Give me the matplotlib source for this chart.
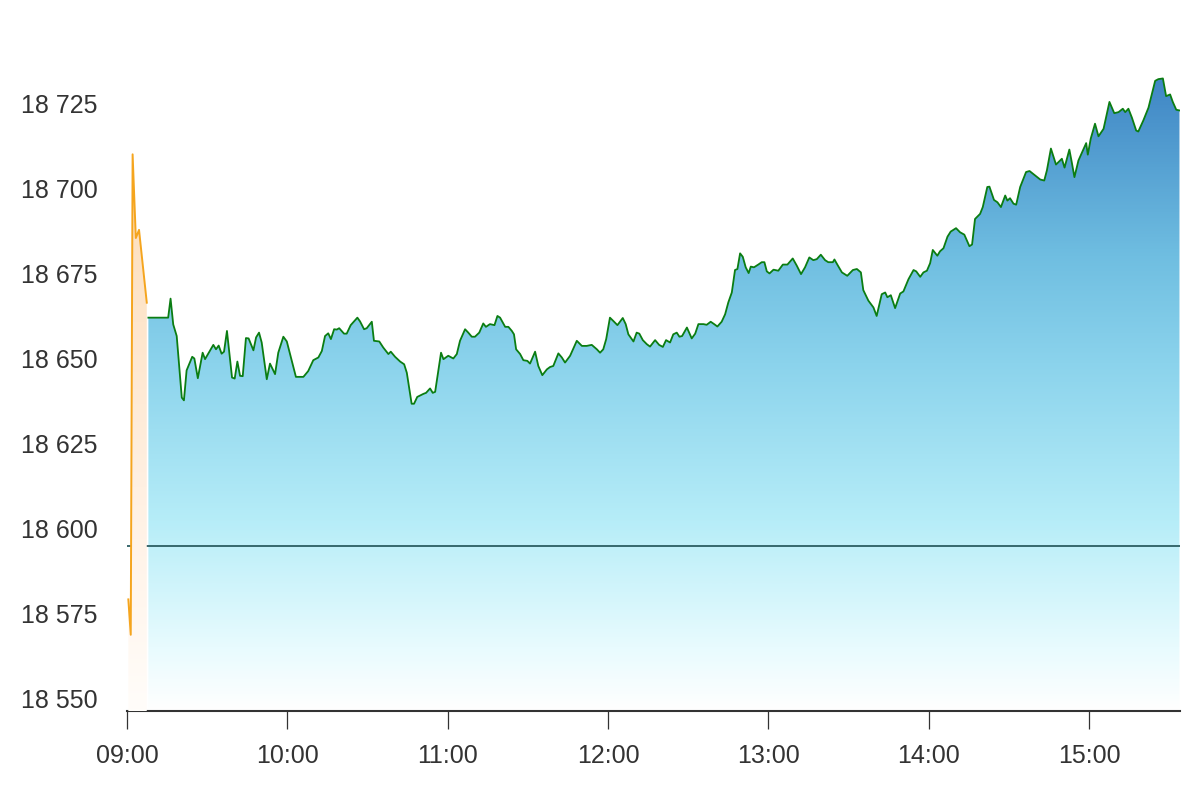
import numpy as np
import matplotlib
matplotlib.use("Agg")
import matplotlib.pyplot as plt
from matplotlib.colors import LinearSegmentedColormap
from matplotlib.patches import Polygon
from matplotlib.ticker import FuncFormatter

# ---------------- data (minutes after 09:00, index level) ----------------
pre_minutes = [0.5, 1.4, 2.1, 3.3, 4.5, 7.4]
pre_values = [18579.2, 18568.8, 18710.0, 18685.4, 18687.8, 18666.4]

minutes = [
    8.0, 15.4, 16.3, 17.3, 18.6, 20.5, 21.3, 22.3, 24.4, 25.2, 26.5, 28.3, 29.2,
    32.3, 33.3, 34.3, 35.4, 36.3, 37.4, 39.3, 40.3, 41.3, 42.3, 43.3, 44.5, 45.5,
    47.3, 48.3, 49.4, 50.4, 52.3, 53.5, 55.4, 56.6, 58.5, 59.8, 63.2, 66.0, 67.8,
    69.7, 71.6, 72.9, 74.1, 75.3, 76.3, 77.5, 78.5, 79.4, 81.2, 82.2, 83.7, 86.2,
    87.2, 88.7, 89.7, 91.6, 92.4, 94.4, 95.9, 97.8, 98.7, 100.3, 102.2, 103.7,
    104.7, 106.5, 107.4, 108.6, 110.9, 111.9, 113.4, 114.4, 115.3, 117.5, 118.4,
    120.2, 122.1, 123.4, 124.6, 126.5, 127.7, 129.0, 130.2, 131.8, 133.3, 134.3,
    135.8, 137.5, 138.6, 139.6, 141.5, 142.7, 144.0, 144.8, 145.6, 147.1, 148.3,
    149.8, 150.8, 152.7, 153.9, 155.4, 157.1, 158.3, 159.5, 161.4, 162.7, 163.9,
    165.8, 168.3, 170.2, 172.0, 173.9, 175.8, 177.0, 178.2, 179.3, 180.7, 182.0,
    183.5, 185.5, 186.6, 187.6, 188.9, 189.5, 190.7, 191.7, 193.0, 194.5, 195.7,
    197.6, 199.1, 200.5, 201.7, 203.2, 204.4, 205.7, 206.7, 207.7, 209.5, 211.3,
    212.6, 213.8, 215.7, 216.9, 218.4, 219.7, 220.9, 222.5, 223.8, 225.0, 226.3,
    227.5, 228.4, 229.4, 230.4, 231.5, 232.6, 233.4, 234.6, 236.2, 237.5, 238.5,
    239.4, 240.4, 241.9, 243.7, 245.4, 247.1, 249.1, 250.6, 252.2, 253.7, 255.3,
    256.8, 258.1, 259.6, 261.2, 262.4, 264.1, 264.7, 266.0, 267.5, 269.5, 271.6,
    273.1, 274.6, 275.5, 277.4, 279.3, 280.5, 282.4, 283.7, 284.5, 285.8, 287.4,
    289.3, 290.5, 292.4, 294.3, 295.3, 296.8, 298.0, 299.3, 300.5, 301.5, 303.2,
    304.2, 305.5, 307.0, 308.2, 310.2, 311.7, 313.3, 315.2, 316.2, 317.3, 319.2,
    320.2, 321.9, 322.7, 324.4, 325.7, 327.0, 328.6, 329.4, 330.4, 331.7, 332.7,
    334.2, 336.4, 337.7, 339.8, 341.7, 343.2, 344.2, 345.7, 347.6, 349.8, 350.8,
    352.6, 353.5, 354.5, 356.0, 357.6, 358.9, 359.5, 360.6, 362.2, 363.5, 365.4,
    367.6, 369.4, 371.0, 372.6, 373.5, 374.7, 376.0, 377.6, 378.4, 380.3, 382.2,
    384.7, 385.9, 387.6, 388.8, 390.3, 391.3, 392.6, 393.8,
]
values = [
    18662.0, 18662.0, 18667.6, 18660.0, 18656.6, 18638.5, 18637.7, 18646.5, 18650.5,
    18650.0, 18644.2, 18651.7, 18649.8, 18654.0, 18652.7, 18653.8, 18651.4, 18652.0,
    18658.1, 18644.4, 18644.1, 18649.1, 18644.9, 18644.8, 18656.0, 18655.9, 18652.4,
    18656.2, 18657.6, 18654.7, 18643.9, 18648.5, 18645.4, 18651.7, 18656.4, 18655.0,
    18644.6, 18644.6, 18646.3, 18649.5, 18650.3, 18652.2, 18656.6, 18657.4, 18655.7,
    18658.6, 18658.5, 18658.9, 18657.3, 18657.3, 18659.8, 18662.0, 18660.9, 18658.6,
    18658.9, 18660.8, 18655.2, 18655.0, 18653.2, 18651.3, 18652.0, 18650.5, 18649.1,
    18648.3, 18645.8, 18636.7, 18636.7, 18638.7, 18639.6, 18639.9, 18641.2, 18639.9,
    18640.2, 18651.7, 18649.8, 18650.8, 18650.0, 18651.3, 18655.2, 18658.6, 18657.6,
    18656.4, 18656.4, 18657.6, 18660.3, 18659.3, 18660.1, 18659.8, 18662.5, 18662.0,
    18659.3, 18659.3, 18658.1, 18657.1, 18652.7, 18651.3, 18649.5, 18649.3, 18648.5,
    18652.0, 18647.8, 18645.1, 18646.8, 18647.5, 18647.8, 18651.5, 18650.3, 18648.8,
    18650.8, 18655.2, 18653.7, 18653.7, 18654.0, 18652.7, 18651.7, 18652.7, 18655.7,
    18662.0, 18661.0, 18659.8, 18661.9, 18660.1, 18657.1, 18655.7, 18655.0, 18657.6,
    18657.3, 18655.4, 18654.2, 18653.5, 18655.4, 18654.0, 18653.4, 18655.4, 18654.7,
    18657.1, 18657.6, 18656.4, 18656.6, 18659.1, 18655.9, 18657.3, 18660.1, 18660.1,
    18659.9, 18660.8, 18660.1, 18659.4, 18660.8, 18663.0, 18666.5, 18669.4, 18676.0,
    18676.3, 18680.9, 18679.9, 18676.8, 18675.1, 18677.0, 18676.8, 18677.6, 18678.3,
    18678.3, 18675.6, 18675.0, 18676.1, 18675.8, 18677.6, 18677.6, 18679.4, 18677.3,
    18674.8, 18676.8, 18679.7, 18678.9, 18679.2, 18680.5, 18678.9, 18678.3, 18678.3,
    18679.1, 18677.3, 18675.3, 18674.3, 18676.0, 18676.3, 18675.3, 18670.1, 18667.0,
    18665.0, 18662.5, 18668.9, 18669.4, 18668.0, 18668.6, 18664.8, 18669.1, 18669.7,
    18673.3, 18676.0, 18675.6, 18674.0, 18675.3, 18675.8, 18678.0, 18681.9, 18680.2,
    18681.5, 18682.4, 18685.8, 18687.3, 18688.3, 18687.1, 18686.4, 18683.0, 18683.5,
    18691.0, 18692.5, 18694.5, 18700.4, 18700.5, 18696.6, 18695.9, 18694.5, 18697.9,
    18696.4, 18697.1, 18695.5, 18695.2, 18700.4, 18704.8, 18705.1, 18703.8, 18702.6,
    18702.3, 18705.3, 18711.7, 18707.0, 18708.7, 18706.1, 18711.4, 18707.7, 18703.3,
    18708.2, 18711.0, 18713.3, 18709.9, 18714.6, 18719.0, 18715.3, 18717.5, 18725.4,
    18722.1, 18722.4, 18723.4, 18722.4, 18723.4, 18720.8, 18717.0, 18716.7, 18720.0,
    18723.7, 18731.6, 18732.1, 18732.3, 18727.1, 18727.6, 18725.4, 18723.1, 18722.9,
]
prev_close = 18595.0
hour_ticks = [0, 60, 120, 180, 240, 300, 360]
hour_labels = ["09:00", "10:00", "11:00", "12:00", "13:00", "14:00", "15:00"]
y_ticks = [18550, 18575, 18600, 18625, 18650, 18675, 18700, 18725]

# ---------------- style ----------------
plt.rcParams['font.family'] = ['Liberation Sans', 'DejaVu Sans']
text_color = '#333333'

fig = plt.figure(figsize=(12, 8), dpi=100)
ax = fig.add_axes([127 / 1200, 1 - 711 / 800, (1180 - 127) / 1200, (711 - 40) / 800])
ymin, ymax = 18546.4, 18743.6
xmax = 394.0

# blue gradient area
t = np.array(minutes)
v = np.array(values)
blue_xy = np.vstack([[t[0], ymin], np.column_stack([t, v]), [t[-1], ymin]])
blue_poly = Polygon(blue_xy, closed=True, facecolor='none', edgecolor='none')
ax.add_patch(blue_poly)
blue_cmap = LinearSegmentedColormap.from_list('blue_fade', [
    (0.00, '#ffffff'),
    (0.10, '#e8fbfe'),
    (0.30, '#b6edf8'),
    (0.55, '#8bd3ec'),
    (0.72, '#6fbee1'),
    (1.00, '#3f86c5'),
])
grad = np.linspace(0, 1, 512).reshape(-1, 1)
im = ax.imshow(grad, cmap=blue_cmap, aspect='auto', origin='lower',
               extent=[t[0], t[-1], ymin, v.max()], zorder=1, interpolation='bilinear')
im.set_clip_path(blue_poly)

# previous close line
ax.axhline(prev_close, color='#2b5d62', lw=1.3, zorder=2)

# pre-open (orange) area
pt = np.array(pre_minutes)
pv = np.array(pre_values)
pre_xy = np.vstack([[pt[0], ymin], np.column_stack([pt, pv]), [pt[-1], ymin]])
pre_poly = Polygon(pre_xy, closed=True, facecolor='none', edgecolor='none')
ax.add_patch(pre_poly)
peach_cmap = LinearSegmentedColormap.from_list('peach_fade', [
    (0.0, '#fffdfa'),
    (0.4, '#fff0e2'),
    (1.0, '#fddcb6'),
])
im2 = ax.imshow(grad, cmap=peach_cmap, aspect='auto', origin='lower',
                extent=[pt[0], pt[-1], ymin, pv.max()], zorder=3, interpolation='bilinear')
im2.set_clip_path(pre_poly)

ax.plot(pt, pv, color='#f5a51e', lw=1.4, zorder=4)
ax.plot(t, v, color='#0b7d12', lw=1.3, zorder=4)

ax.set_xlim(0, xmax)
ax.set_ylim(ymin, ymax)

# axes styling
for s in ['top', 'right', 'left']:
    ax.spines[s].set_visible(False)
ax.spines['bottom'].set_color('#333333')
ax.spines['bottom'].set_linewidth(1.5)

ax.set_xticks(hour_ticks)
ax.set_xticklabels(hour_labels)
ax.set_yticks(y_ticks)
ax.yaxis.set_major_formatter(FuncFormatter(lambda y, p: f"{y:,.0f}".replace(',', ' ')))
ax.tick_params(axis='x', direction='out', length=13, width=0.9, color='#333333',
               pad=11, labelsize=18, labelcolor=text_color)
ax.tick_params(axis='y', length=0, pad=21, labelsize=18, labelcolor=text_color)
ax.set_facecolor('white')

fig.savefig('out.png', dpi=100, facecolor='white')
